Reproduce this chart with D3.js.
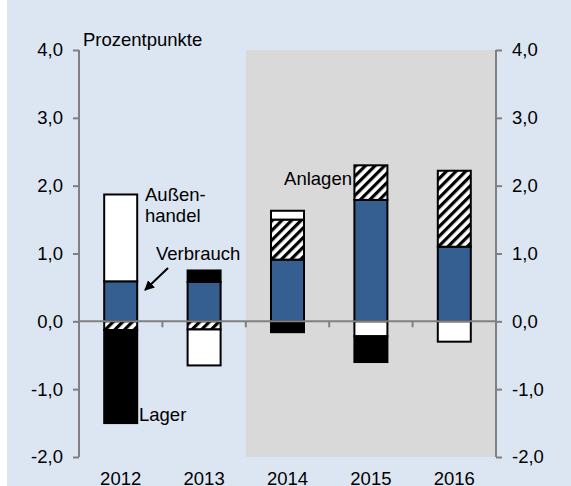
<!DOCTYPE html>
<html>
<head>
<meta charset="utf-8">
<script src="https://cdn.jsdelivr.net/npm/d3@7"></script>
<style>
  body { margin: 0; background: #ffffff; }
  svg { display: block; font-family: Arial, "Liberation Sans", sans-serif; }
</style>
</head>
<body>
<svg id="chart" width="571" height="486"></svg>
<script>
// Wachstumsbeitraege in Prozentpunkten
var years = ["2012", "2013", "2014", "2015", "2016"];
var verbrauch = [0.59, 0.58, 0.91, 1.79, 1.10];
var anlagen = [-0.13, -0.12, 0.59, 0.51, 1.12];
var aussenhandel = [1.28, -0.53, 0.13, -0.22, -0.30];
var lager = [-1.37, 0.17, -0.16, -0.38, 0];
var yTicks = [-2, -1, 0, 1, 2, 3, 4];
var forecastYears = ["2014", "2015", "2016"];

var keys = ["verbrauch", "anlagen", "aussenhandel", "lager"];
var rows = years.map(function(y, i)
{
    return { year: y, verbrauch: verbrauch[i], anlagen: anlagen[i], aussenhandel: aussenhandel[i], lager: lager[i] };
});

var svg = d3.select("#chart");
var plotLeft = 79, plotRight = 496, plotTop = 50, plotBottom = 457;
var fontSize = 18.5;

// background
svg.append("rect").attr("x", 7).attr("y", 0).attr("width", 564).attr("height", 486).attr("fill", "#dce6f2");

// hatch pattern for Anlagen
var defs = svg.append("defs");
var pat = defs.append("pattern")
    .attr("id", "hatch")
    .attr("patternUnits", "userSpaceOnUse")
    .attr("width", 6.8).attr("height", 6.8)
    .attr("patternTransform", "rotate(45)");
pat.append("rect").attr("width", 6.8).attr("height", 6.8).attr("fill", "#ffffff");
pat.append("rect").attr("x", 0).attr("y", 0).attr("width", 3.2).attr("height", 6.8).attr("fill", "#000000");

defs.append("marker")
    .attr("id", "arrow")
    .attr("viewBox", "0 0 10 10")
    .attr("refX", 9).attr("refY", 5)
    .attr("markerWidth", 5).attr("markerHeight", 5)
    .attr("orient", "auto")
    .append("path").attr("d", "M0,0 L10,5 L0,10 z").attr("fill", "#000");

var x = d3.scaleBand().domain(years).range([plotLeft, plotRight]);
var y = d3.scaleLinear().domain([-2, 4]).range([plotBottom, plotTop]);

// shaded forecast area
svg.append("rect")
    .attr("x", x(forecastYears[0]))
    .attr("y", y(4))
    .attr("width", plotRight - x(forecastYears[0]))
    .attr("height", y(-2) - y(4))
    .attr("fill", "#d9d9d9");

var fills = { verbrauch: "#365f91", anlagen: "url(#hatch)", aussenhandel: "#ffffff", lager: "#000000" };

var stack = d3.stack().keys(keys).offset(d3.stackOffsetDiverging);
var series = stack(rows);

var barW = 33;
var groups = svg.selectAll("g.series")
    .data(series)
    .enter().append("g")
    .attr("class", "series")
    .attr("fill", function(d) { return fills[d.key]; });

groups.selectAll("rect")
    .data(function(d) { return d.filter(function(p) { return p[1] - p[0] !== 0; }); })
    .enter().append("rect")
    .attr("x", function(d) { return x(d.data.year) + x.bandwidth() / 2 - barW / 2; })
    .attr("y", function(d) { return y(d[1]); })
    .attr("width", barW)
    .attr("height", function(d) { return y(d[0]) - y(d[1]); })
    .attr("stroke", "#000")
    .attr("stroke-width", 2);

// axes
var axisColor = "#808080";
var fmt = function(d) { return d3.format(".1f")(d).replace(".", ",").replace("\u2212", "-"); };
var yLeft = d3.axisLeft(y).tickValues(yTicks).tickSize(6).tickPadding(10).tickFormat(fmt);
var yRight = d3.axisRight(y).tickValues(yTicks).tickSize(6).tickPadding(10).tickFormat(fmt);

var gl = svg.append("g").attr("transform", "translate(" + plotLeft + ",0)").call(yLeft);
var gr = svg.append("g").attr("transform", "translate(" + plotRight + ",0)").call(yRight);
[gl, gr].forEach(function(g)
{
    g.select(".domain").attr("stroke", axisColor).attr("stroke-width", 2).attr("d", "M0," + plotTop + "V" + plotBottom);
    g.selectAll(".tick line").attr("stroke", axisColor).attr("stroke-width", 2);
    g.selectAll(".tick text").attr("font-size", fontSize).attr("fill", "#000").attr("font-family", "Arial, 'Liberation Sans', sans-serif");
});

// zero line with category ticks
svg.append("line")
    .attr("x1", plotLeft).attr("x2", plotRight)
    .attr("y1", y(0)).attr("y2", y(0))
    .attr("stroke", axisColor).attr("stroke-width", 2);
svg.selectAll("line.cat")
    .data(years.slice(1))
    .enter().append("line")
    .attr("class", "cat")
    .attr("x1", function(d) { return x(d); }).attr("x2", function(d) { return x(d); })
    .attr("y1", y(0)).attr("y2", y(0) + 6)
    .attr("stroke", axisColor).attr("stroke-width", 2);

// year labels
svg.selectAll("text.year")
    .data(years)
    .enter().append("text")
    .attr("class", "year")
    .attr("x", function(d) { return x(d) + x.bandwidth() / 2; })
    .attr("y", 485)
    .attr("text-anchor", "middle")
    .attr("font-size", fontSize)
    .text(function(d) { return d; });

// annotations
function label(txt, px, py, anchor)
{
    svg.append("text").attr("x", px).attr("y", py).attr("font-size", fontSize)
        .attr("text-anchor", anchor || "start").text(txt);
}
label("Prozentpunkte", 83, 46);
label("Außen-", 145, 201);
label("handel", 145, 222);
label("Verbrauch", 156, 260);
label("Anlagen", 352, 185, "end");
label("Lager", 139, 421);

svg.append("line")
    .attr("x1", 168).attr("y1", 268)
    .attr("x2", 145).attr("y2", 290)
    .attr("stroke", "#000").attr("stroke-width", 2)
    .attr("marker-end", "url(#arrow)");
</script>
</body>
</html>
